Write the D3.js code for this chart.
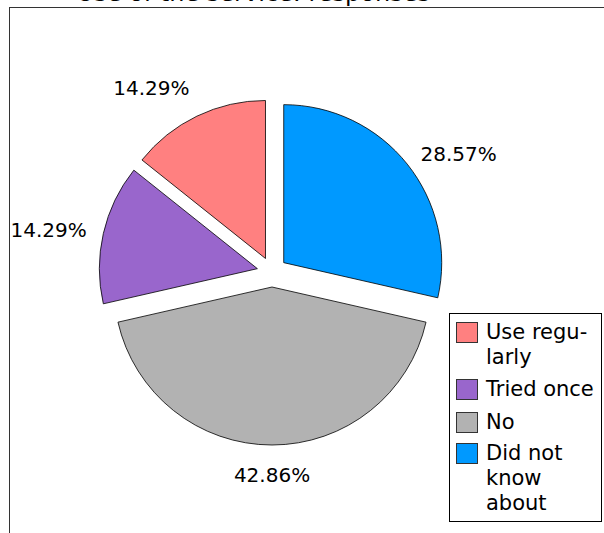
<!DOCTYPE html>
<html>
<head>
<meta charset="utf-8">
<script src="https://cdn.jsdelivr.net/npm/d3@7"></script>
<style>
  html, body { margin: 0; padding: 0; background: #fff; overflow: hidden; }
  svg { display: block; font-family: "DejaVu Sans", sans-serif; }
</style>
</head>
<body>
<svg id="chart" width="604" height="533"></svg>
<script>
// Survey answers, in legend order
const categories = ["Use regularly", "Tried once", "No", "Did not know about"];
const legendLines = [["Use regu-", "larly"], ["Tried once"], ["No"], ["Did not", "know", "about"]];
const counts = [1, 1, 3, 2];
const percentLabels = ["14.29%", "14.29%", "42.86%", "28.57%"];
const sliceColors = ["#ff8080", "#9966cc", "#b2b2b2", "#0099ff"];
const titleText = "Use of the service: responses";

const svg = d3.select("#chart");

// outer frame of the chart area (runs past the right and bottom edges)
svg.append("rect")
  .attr("x", 9.5).attr("y", 7.5)
  .attr("width", 700).attr("height", 600)
  .attr("fill", "none").attr("stroke", "#333").attr("stroke-width", 1);

// title, sitting above the frame
svg.append("text")
  .attr("x", 430).attr("y", 1)
  .attr("text-anchor", "end")
  .attr("font-size", 24)
  .attr("fill", "#000")
  .text(titleText);

const cx = 272, cy = 272, R = 158, explode = 15, labelR = 190;
const fontSize = 20, legendFontSize = 21;

const pie = d3.pie().sort(null).value(d => d).startAngle(0).endAngle(-2 * Math.PI);
const arcs = pie(counts);
const arc = d3.arc().innerRadius(0).outerRadius(R);
const color = d3.scaleOrdinal().domain(categories).range(sliceColors);

const g = svg.append("g").attr("transform", `translate(${cx},${cy})`);

arcs.forEach((a, i) => {
  const mid = (a.startAngle + a.endAngle) / 2;
  const dx = Math.sin(mid), dy = -Math.cos(mid);
  g.append("path")
    .attr("d", arc(a))
    .attr("transform", `translate(${dx * explode},${dy * explode})`)
    .attr("fill", color(categories[i]))
    .attr("stroke", "#000")
    .attr("stroke-width", 0.8)
    .attr("stroke-linejoin", "round");

  // value label, aligned away from the slice
  const lx = dx * labelR, ly = dy * labelR;
  const anchor = dx > 0.3 ? "start" : dx < -0.3 ? "end" : "middle";
  let by;
  if (dy < -0.7) by = ly - 6;
  else if (dy > 0.7) by = ly + 20;
  else by = ly + 7;
  g.append("text")
    .attr("x", lx).attr("y", by)
    .attr("text-anchor", anchor)
    .attr("font-size", fontSize)
    .attr("fill", "#000")
    .text(percentLabels[i]);
});

// legend
const lg = svg.append("g");
lg.append("rect")
  .attr("x", 449.5).attr("y", 313.5)
  .attr("width", 152).attr("height", 208)
  .attr("fill", "#fff").attr("stroke", "#000").attr("stroke-width", 1);

const lineH = 25;
const itemTops = [322, 379, 412, 443];
categories.forEach((c, i) => {
  const top = itemTops[i];
  lg.append("rect")
    .attr("x", 456.5).attr("y", top + 0.5)
    .attr("width", 21).attr("height", 20)
    .attr("fill", color(c)).attr("stroke", "#333").attr("stroke-width", 1);
  legendLines[i].forEach((t, j) => {
    lg.append("text")
      .attr("x", 486).attr("y", top + 17 + j * lineH)
      .attr("font-size", legendFontSize)
      .attr("fill", "#000")
      .text(t);
  });
});
</script>
</body>
</html>
